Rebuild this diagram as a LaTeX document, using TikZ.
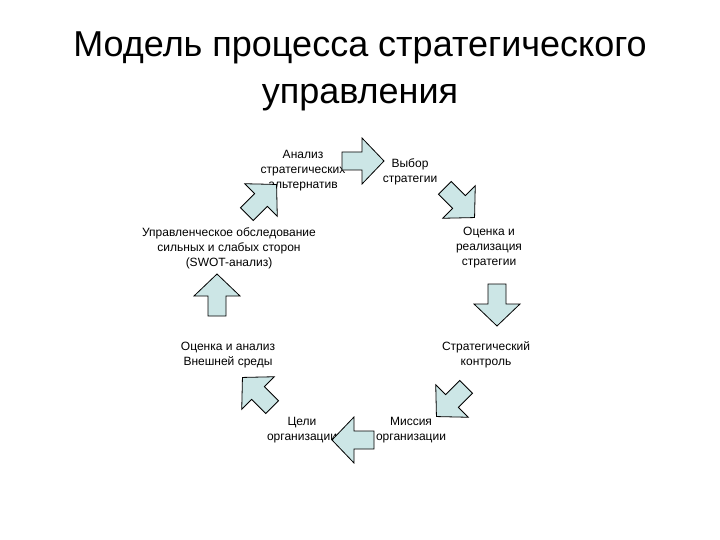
\documentclass[tikz,border=0pt]{standalone}
\usepackage{fontspec}
\setmainfont{Liberation Sans}
\definecolor{arrowfill}{RGB}{204,230,230}
\tikzset{
  lbl/.style={align=center, font=\fontsize{12}{15}\selectfont, inner sep=0pt},
  ttl/.style={align=center, font=\fontsize{36}{47}\selectfont, inner sep=0pt},
  blk/.style={draw=black, line width=0.8pt, fill=arrowfill, line join=miter},
}
\newcommand\blockarrow[3]{%
  \draw[blk, shift={(#1,#2)}, rotate=#3] (-20,-9) -- (0,-9) -- (0,-23) -- (22,0) -- (0,23) -- (0,9) -- (-20,9) -- cycle;}
\begin{document}
\begin{tikzpicture}[x=1pt,y=-1pt]
  \path[use as bounding box, fill=white] (0,0) rectangle (720,540);
  % title
  \node[ttl, anchor=base] (t1) at (360,57) {Модель процесса стратегического};
  \node[ttl, anchor=base] (t2) at (360,104) {управления};
  % labels
  \node[lbl] (alt) at (303,171) {Анализ\\стратегических\\альтернатив};
  \node[lbl] (choice) at (410,171.5) {Выбор\\стратегии};
  \node[lbl] (swot) at (229,248) {Управленческое обследование\\сильных и слабых сторон\\(SWOT-анализ)};
  \node[lbl] (impl) at (489,248) {Оценка и\\реализация\\стратегии};
  \node[lbl] (env) at (228,355) {Оценка и анализ\\Внешней среды};
  \node[lbl] (ctrl) at (486,355) {Стратегический\\контроль};
  \node[lbl] (goals) at (302,430) {Цели\\организации};
  \node[lbl] (mission) at (411,430) {Миссия\\организации};
  % block arrows (cycle)
  \blockarrow{362}{161}{0}
  \blockarrow{459}{202}{-45}
  \blockarrow{497}{304}{-90}
  \blockarrow{452}{401}{-135}
  \blockarrow{354}{440}{180}
  \blockarrow{258}{393}{135}
  \blockarrow{217}{296}{90}
  \blockarrow{261}{200}{45}
\end{tikzpicture}
\end{document}
